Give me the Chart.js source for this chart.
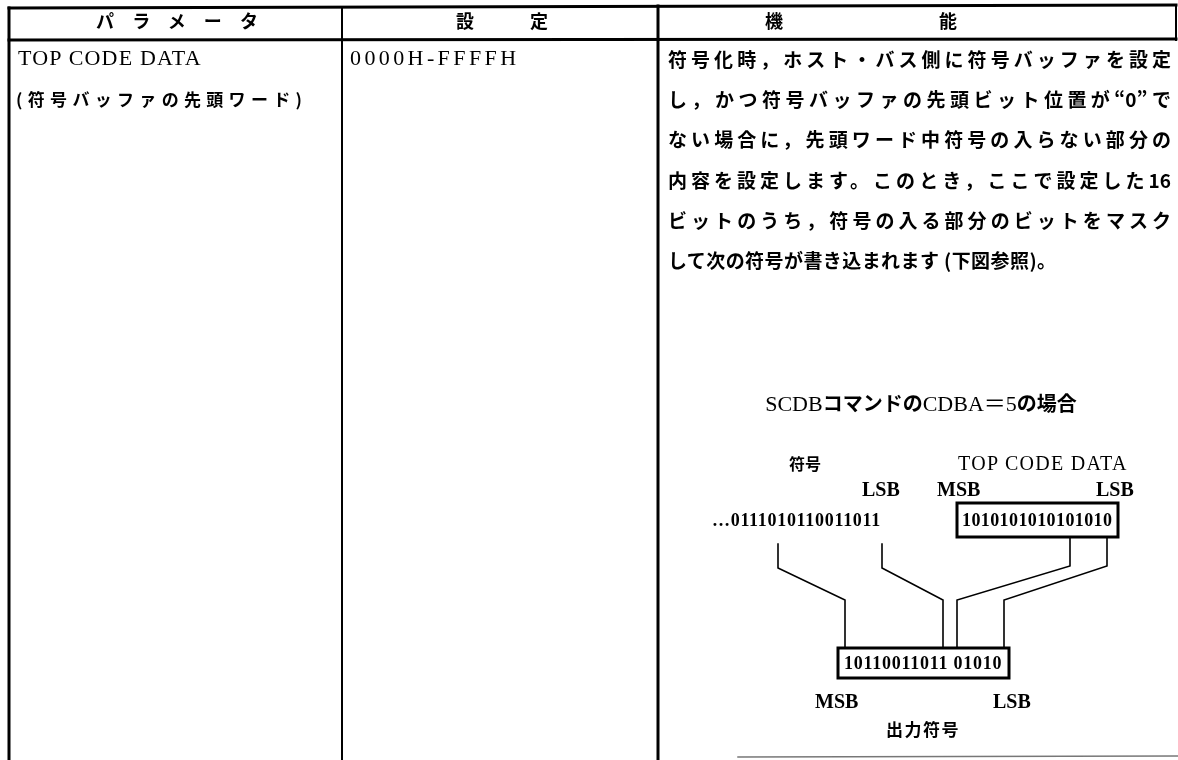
<!DOCTYPE html>
<html lang="ja">
<head>
<meta charset="utf-8">
<title>TOP CODE DATA</title>
<script src="https://cdn.jsdelivr.net/npm/chart.js@4/dist/chart.umd.min.js"></script>
<style>
    body { margin: 0; background: #fff; }
    #page { position: relative; width: 1178px; height: 760px; overflow: hidden; }
    #diagram { position: absolute; left: 0; top: 0; }
    .t {
        position: absolute;
        line-height: 1;
        white-space: nowrap;
        color: #000;
        transform: translateY(-50%);
    }
    .goth { font-family: "Noto Sans CJK JP", sans-serif; font-weight: 700; }
    .serif { font-family: "Liberation Serif", "Noto Sans CJK JP", serif; }
    .just { text-align: justify; text-align-last: justify; text-justify: inter-character; }
    .cjk { font-family: "Noto Sans CJK JP", sans-serif; font-weight: 700; }
</style>
</head>
<body>
<div id="page">
    <canvas id="diagram" width="1178" height="760"></canvas>
</div>

<script>
// Table text
const headers = ["パラメータ", "設定", "機能"];
const parameterLines = ["TOP CODE DATA", "(符号バッファの先頭ワード)"];
const settingRange = "0000H-FFFFH";
const functionLines = [
    "符号化時，ホスト・バス側に符号バッファを設定",
    "し，かつ符号バッファの先頭ビット位置が“0”で",
    "ない場合に，先頭ワード中符号の入らない部分の",
    "内容を設定します。このとき，ここで設定した16",
    "ビットのうち，符号の入る部分のビットをマスク",
    "して次の符号が書き込まれます (下図参照)。"
];

// Figure text
const figureCaption = ["SCDB", "コマンドの", "CDBA＝5", "の場合"];
const symbolLabel = "符号";
const topCodeLabel = "TOP CODE DATA";
const outputLabel = "出力符号";
const symbolBits = "…0111010110011011";
const topCodeBits = "1010101010101010";
const outputBits = "10110011011 01010";

// Geometry (page pixels, y downwards)
const tableRules = [
    { pts: [[9, 8], [1176, 5]], w: 3 },
    { pts: [[9, 40], [1176, 39]], w: 3 },
    { pts: [[9, 8], [9, 760]], w: 3 },
    { pts: [[342, 7], [342, 760]], w: 2 },
    { pts: [[658, 6], [658, 760]], w: 3 },
    { pts: [[1176, 5], [1176, 40]], w: 2 }
];
const scanEdge = [[738, 757], [1178, 756]];
const topBox = [[957, 503], [1118, 503], [1118, 537], [957, 537], [957, 503]];
const outputBox = [[838, 648], [1009, 648], [1009, 678], [838, 678], [838, 648]];
const connectorPaths = [
    [[778, 544], [778, 568], [845, 600], [845, 648]],
    [[882, 544], [882, 568], [943, 600], [943, 648]],
    [[1070, 537], [1070, 566], [957, 600], [957, 648]],
    [[1107, 537], [1107, 566], [1004, 600], [1004, 648]]
];

const toPoints = pts => pts.map(([x, y]) => ({ x, y }));
const stroke = (pts, w, color = "#000") => ({
    data: toPoints(pts),
    showLine: true,
    borderColor: color,
    borderWidth: w,
    pointRadius: 0,
    fill: false,
    tension: 0,
    borderCapStyle: "square",
    borderJoinStyle: "miter"
});

const datasets = [
    ...tableRules.map(r => stroke(r.pts, r.w)),
    stroke(scanEdge, 1.5, "#777"),
    stroke(topBox, 3),
    stroke(outputBox, 3),
    ...connectorPaths.map(p => stroke(p, 1.6))
];

new Chart(document.getElementById("diagram"), {
    type: "scatter",
    data: { datasets },
    options: {
        responsive: false,
        animation: false,
        events: [],
        layout: { padding: 0 },
        plugins: { legend: { display: false }, tooltip: { enabled: false } },
        scales: {
            x: { type: "linear", min: 0, max: 1178, display: false },
            y: { type: "linear", min: 0, max: 760, reverse: true, display: false }
        }
    }
});

// Text labels
const page = document.getElementById("page");
function label(text, cls, x, y, size, extra = {}) {
    const el = document.createElement("div");
    el.className = "t " + cls;
    el.textContent = text;
    el.style.left = x + "px";
    el.style.top = y + "px";
    el.style.fontSize = size + "px";
    Object.assign(el.style, extra);
    page.appendChild(el);
    return el;
}

label(headers[0], "goth just", 96, 20, 18, { width: "162px" });
label(headers[1], "goth just", 456, 20, 18, { width: "92px" });
label(headers[2], "goth just", 765, 20, 18, { width: "192px" });

label(parameterLines[0], "serif", 18, 58, 22, { letterSpacing: "1.2px" });
label(parameterLines[1], "goth just", 16, 98, 17, { width: "286px" });
label(settingRange, "serif", 350, 58, 22, { letterSpacing: "3.4px" });

const lineWidths = [503, 503, 503, 503, 503, 388];
functionLines.forEach((line, i) => {
    label(line, "goth just", 668, 58 + i * 40.2, 19, { width: lineWidths[i] + "px" });
});

// caption: latin in serif, kana in bold gothic
const cap = label("", "serif", 760, 404, 22, { width: "322px", textAlign: "center" });
figureCaption.forEach((part, i) => {
    const s = document.createElement("span");
    s.textContent = part;
    if (i % 2 === 1) { s.className = "cjk"; s.style.fontSize = "20px"; }
    cap.appendChild(s);
});

label(symbolLabel, "goth", 789, 463, 16);
label(topCodeLabel, "serif", 958, 463, 20, { letterSpacing: "1.3px" });
label("LSB", "serif", 862, 489, 20, { fontWeight: "700" });
label("MSB", "serif", 937, 489, 20, { fontWeight: "700" });
label("LSB", "serif", 1096, 489, 20, { fontWeight: "700" });
label(symbolBits, "serif", 712, 520, 18, { fontWeight: "700", letterSpacing: "0.7px" });
label(topCodeBits, "serif", 962, 520, 18, { fontWeight: "700", letterSpacing: "0.4px" });
label(outputBits, "serif", 844, 663, 18, { fontWeight: "700", letterSpacing: "0.75px" });
label("MSB", "serif", 815, 701, 20, { fontWeight: "700" });
label("LSB", "serif", 993, 701, 20, { fontWeight: "700" });
label(outputLabel, "goth", 886, 728, 17, { letterSpacing: "1.5px" });
</script>
</body>
</html>
